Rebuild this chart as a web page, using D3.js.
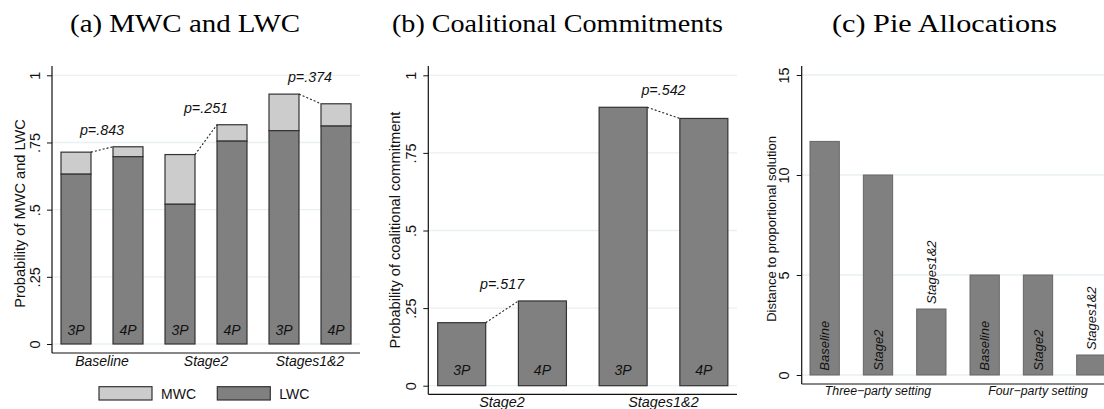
<!DOCTYPE html>
<html>
<head>
<meta charset="utf-8">
<script src="https://cdn.jsdelivr.net/npm/d3@7"></script>
<style>
  body { margin: 0; background: #fff; }
  text { font-family: "Liberation Sans", Arial, Helvetica, sans-serif; fill: #111; }
</style>
</head>
<body>
<script>
// panel (a): MWC / LWC stacked bars
const groupsA = ["Baseline", "Stage2", "Stages1&2"];
const partiesA = ["3P", "4P", "3P", "4P", "3P", "4P"];
const lwcA = [0.632, 0.697, 0.520, 0.755, 0.794, 0.811];
const mwcA = [0.082, 0.037, 0.185, 0.061, 0.136, 0.083];
const pA = ["p=.843", "p=.251", "p=.374"];
const legendA = ["MWC", "LWC"];

// panel (b): coalitional commitments
const groupsB = ["Stage2", "Stages1&2"];
const partiesB = ["3P", "4P", "3P", "4P"];
const commitB = [0.203, 0.273, 0.897, 0.861];
const pB = ["p=.517", "p=.542"];

// panel (c): pie allocations
const settingsC = ["Three\u2212party setting", "Four\u2212party setting"];
const treatC = ["Baseline", "Stage2", "Stages1&2", "Baseline", "Stage2", "Stages1&2"];
const distC = [11.68, 10.0, 3.3, 5.0, 5.0, 1.0];

const probTicks = [0, 0.25, 0.5, 0.75, 1];
const probLabels = ["0", ".25", ".5", ".75", "1"];
const distTicks = [0, 5, 10, 15];
const distLabels = ["0", "5", "10", "15"];

const titles = ["(a) MWC and LWC", "(b) Coalitional Commitments", "(c) Pie Allocations"];

const width = 1104, height = 409;
const svg = d3.select("body").append("svg")
  .attr("width", width)
  .attr("height", height);

svg.append("rect").attr("width", width).attr("height", height).attr("fill", "#fff");

// titles were set in Computer Modern, which is wider: stretch to the same extent
const titleX = [185, 557.5, 944.5];
const titleW = [230, 331, 225];
svg.selectAll(".title")
  .data(titles)
  .enter()
  .append("text")
  .attr("class", "title")
  .attr("x", (d, i) => titleX[i] - titleW[i] / 2)
  .attr("y", 32)
  .attr("textLength", (d, i) => titleW[i])
  .attr("lengthAdjust", "spacingAndGlyphs")
  .style("font-family", "'Liberation Serif', 'DejaVu Serif', serif")
  .style("font-size", "25.5px")
  .style("fill", "#000")
  .text(d => d);

const darkFill = "#808080", lightFill = "#cccccc", gridCol = "#e8f0f2";

// shared frame: grid, axes, tick labels, y title
function frame(box, y, ticks, labels, ytitle, titlePos, titleSize) {
  const g = svg.append("g");
  g.selectAll(".grid")
    .data(ticks)
    .enter()
    .append("line")
    .attr("x1", box.left).attr("x2", box.right)
    .attr("y1", d => y(d)).attr("y2", d => y(d))
    .attr("stroke", gridCol)
    .attr("stroke-width", 1.3);

  const ax = g.append("g")
    .attr("transform", "translate(" + box.left + ",0)")
    .call(d3.axisLeft(y).tickValues(ticks).tickSize(5).tickFormat((d, i) => labels[i]));
  ax.select(".domain").remove();
  ax.selectAll("line").attr("stroke", "#111");
  ax.selectAll("text")
    .attr("x", 0).attr("y", 0).attr("dy", "0.35em")
    .attr("transform", "translate(-17.5,0) rotate(-90)")
    .attr("text-anchor", "middle")
    .style("font-size", "14.5px")
    .style("font-family", "'Liberation Sans', Arial, sans-serif")
    .style("fill", "#111");

  g.append("line")
    .attr("x1", box.left).attr("x2", box.left)
    .attr("y1", box.top).attr("y2", box.bottom)
    .attr("stroke", "#111").attr("stroke-width", 1.2);
  g.append("line")
    .attr("x1", box.left).attr("x2", box.right)
    .attr("y1", box.bottom).attr("y2", box.bottom)
    .attr("stroke", "#111").attr("stroke-width", 1.2);

  g.append("text")
    .attr("transform", "translate(" + titlePos[0] + "," + titlePos[1] + ") rotate(-90)")
    .attr("dy", "0.35em")
    .attr("text-anchor", "middle")
    .style("font-size", titleSize)
    .text(ytitle);
  return g;
}

function pLabel(g, x1, y1, x2, y2, label) {
  g.append("line")
    .attr("x1", x1).attr("y1", y1).attr("x2", x2).attr("y2", y2)
    .attr("stroke", "#222")
    .attr("stroke-width", 1.1)
    .attr("stroke-dasharray", "2,2");
  g.append("text")
    .attr("x", (x1 + x2) / 2)
    .attr("y", Math.min(y1, y2) - 12)
    .attr("text-anchor", "middle")
    .style("font-size", "14.3px")
    .style("font-style", "italic")
    .text(label);
}

// ---------- panel (a)
const boxA = {left: 52, right: 360, top: 66, bottom: 353};
const yA = d3.scaleLinear().domain([0, 1]).range([344, 75.3]);
const xA = d3.scalePoint().domain(d3.range(lwcA.length)).range([50, 362]).padding(0.5);
const bwA = 30;
const gA = frame(boxA, yA, probTicks, probLabels, "Probability of MWC and LWC", [20, 213.5], "14.6px");

const totA = lwcA.map((d, i) => d + mwcA[i]);
gA.selectAll(".mwc")
  .data(mwcA)
  .enter()
  .append("rect")
  .attr("x", (d, i) => xA(i) - bwA / 2)
  .attr("y", (d, i) => yA(totA[i]))
  .attr("width", bwA)
  .attr("height", (d, i) => yA(lwcA[i]) - yA(totA[i]))
  .attr("fill", lightFill)
  .attr("stroke", "#333")
  .attr("stroke-width", 1.2);
gA.selectAll(".lwc")
  .data(lwcA)
  .enter()
  .append("rect")
  .attr("x", (d, i) => xA(i) - bwA / 2)
  .attr("y", d => yA(d))
  .attr("width", bwA)
  .attr("height", d => yA(0) - yA(d))
  .attr("fill", darkFill)
  .attr("stroke", "#333")
  .attr("stroke-width", 1.2);
gA.selectAll(".party")
  .data(partiesA)
  .enter()
  .append("text")
  .attr("x", (d, i) => xA(i))
  .attr("y", yA(0) - 9)
  .attr("text-anchor", "middle")
  .style("font-size", "14px")
  .style("font-style", "italic")
  .text(d => d);
groupsA.forEach((grp, k) => {
  const i0 = 2 * k, i1 = 2 * k + 1;
  pLabel(gA, xA(i0) + bwA / 2, yA(totA[i0]), xA(i1) - bwA / 2, yA(totA[i1]), pA[k]);
  gA.append("text")
    .attr("x", (xA(i0) + xA(i1)) / 2)
    .attr("y", 366)
    .attr("text-anchor", "middle")
    .style("font-size", "14px")
    .style("font-style", "italic")
    .text(grp);
});

// legend
const legX = [99, 217.3];
legendA.forEach((name, i) => {
  gA.append("rect")
    .attr("x", legX[i]).attr("y", 386.7)
    .attr("width", 53).attr("height", 13.3)
    .attr("fill", i === 0 ? lightFill : darkFill)
    .attr("stroke", "#333").attr("stroke-width", 1.2);
  gA.append("text")
    .attr("x", legX[i] + 62).attr("y", 398.5)
    .style("font-size", "14px")
    .text(name);
});

// ---------- panel (b)
const boxB = {left: 428.3, right: 737, top: 66, bottom: 394.3};
const yB = d3.scaleLinear().domain([0, 1]).range([385.7, 75.3]);
const xB = d3.scalePoint().domain(d3.range(commitB.length)).range([421.35, 744.2]).padding(0.5);
const bwB = 48;
const gB = frame(boxB, yB, probTicks, probLabels, "Probability of coalitional commitment", [395, 230], "14.6px");

gB.selectAll(".bar")
  .data(commitB)
  .enter()
  .append("rect")
  .attr("x", (d, i) => xB(i) - bwB / 2)
  .attr("y", d => yB(d))
  .attr("width", bwB)
  .attr("height", d => yB(0) - yB(d))
  .attr("fill", darkFill)
  .attr("stroke", "#333")
  .attr("stroke-width", 1.2);
gB.selectAll(".party")
  .data(partiesB)
  .enter()
  .append("text")
  .attr("x", (d, i) => xB(i))
  .attr("y", yB(0) - 10.5)
  .attr("text-anchor", "middle")
  .style("font-size", "14px")
  .style("font-style", "italic")
  .text(d => d);
groupsB.forEach((grp, k) => {
  const i0 = 2 * k, i1 = 2 * k + 1;
  pLabel(gB, xB(i0) + bwB / 2, yB(commitB[i0]), xB(i1) - bwB / 2, yB(commitB[i1]), pB[k]);
  gB.append("text")
    .attr("x", (xB(i0) + xB(i1)) / 2)
    .attr("y", 406.5)
    .attr("text-anchor", "middle")
    .style("font-size", "14.4px")
    .style("font-style", "italic")
    .text(grp);
});

// ---------- panel (c)
const boxC = {left: 801.7, right: 1104, top: 66, bottom: 384};
const yC = d3.scaleLinear().domain([0, 15]).range([375, 75]);
const xC = d3.scalePoint().domain(d3.range(distC.length)).range([798, 1118]).padding(0.5);
const bwC = 29.3;
const gC = frame(boxC, yC, distTicks, distLabels, "Distance to proportional solution", [771, 229], "13px");

gC.selectAll(".bar")
  .data(distC)
  .enter()
  .append("rect")
  .attr("x", (d, i) => xC(i) - bwC / 2)
  .attr("y", d => yC(d))
  .attr("width", bwC)
  .attr("height", d => yC(0) - yC(d))
  .attr("fill", darkFill)
  .attr("stroke", "#666")
  .attr("stroke-width", 1);

// bar labels sit at the base, or above the bar when they do not fit
gC.selectAll(".blabel")
  .data(treatC)
  .enter()
  .append("text")
  .attr("dy", "0.35em")
  .style("font-size", "13px")
  .style("font-style", "italic")
  .text(d => d)
  .attr("transform", function (d, i) {
    const len = this.getComputedTextLength();
    const barH = yC(0) - yC(distC[i]);
    const base = (len + 8 > barH) ? yC(distC[i]) - 5 : yC(0) - 4.3;
    return "translate(" + xC(i) + "," + base + ") rotate(-90)";
  });

settingsC.forEach((s, k) => {
  gC.append("text")
    .attr("x", xC(3 * k + 1))
    .attr("y", 395)
    .attr("text-anchor", "middle")
    .style("font-size", "12.3px")
    .style("font-style", "italic")
    .text(s);
});
</script>
</body>
</html>
